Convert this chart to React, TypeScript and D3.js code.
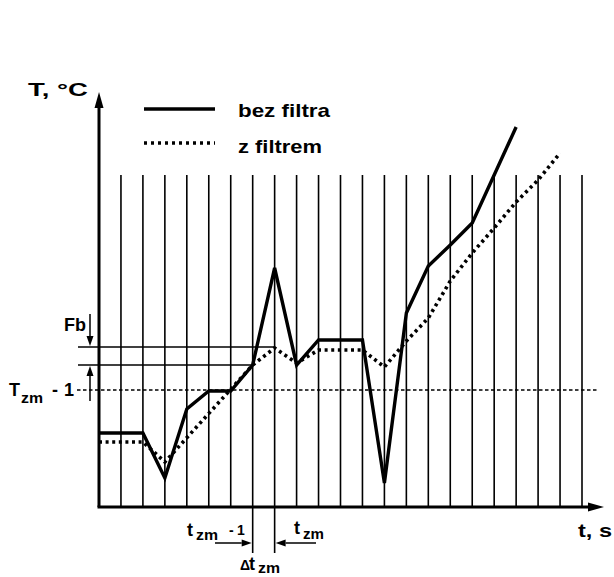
import React from "react";
import * as d3 from "d3";

// ---- data (time in sampling steps, temperature in arbitrary units) ----
const gridTimes = [1, 2, 3, 4, 5, 6, 7, 8, 9, 10, 11, 12, 13, 14, 15, 16, 17, 18, 19, 20, 21, 22];
const solidTimes = [0, 2, 3, 4, 5, 6, 7, 8, 9, 10, 12, 13, 14, 15, 16, 17, 19];
const solidValues = [18.5, 18.5, 7.25, 24.5, 29, 29, 35.5, 59.75, 35.5, 41.75, 41.75, 6, 48.5, 60.25, 65.5, 71, 95];
const dottedTimes = [0, 2, 3, 7, 8, 9, 10, 12, 13, 14, 15, 16, 17, 18, 19, 20, 21];
const dottedValues = [16.25, 16.25, 11.25, 35.5, 39.75, 36, 39.25, 39.25, 35, 41.5, 47.25, 56.5, 63.5, 69.75, 76.25, 81.75, 88.5];
const fbUpper = 40;
const fbLower = 35.5;
const tzmLevel = 29.25;
const gridTop = 83;
const markTimes = [7, 8]; // t_zm-1 and t_zm
const legendLabels = ["bez filtra", "z filtrem"];

const W = 614;
const H = 577;
const FONT = "'Liberation Sans', Arial, Helvetica, sans-serif";

const x = d3.scaleLinear().domain([0, 22]).range([99, 582]);
const y = d3.scaleLinear().domain([0, 100]).range([507, 107]);

function Arrow({ x1, y1, x2, y2, head = 10, half = 3.5, width = 1.5 }: any) {
  const ang = Math.atan2(y2 - y1, x2 - x1);
  const bx = x2 - head * Math.cos(ang);
  const by = y2 - head * Math.sin(ang);
  const px = -Math.sin(ang) * half;
  const py = Math.cos(ang) * half;
  return (
    <g>
      <line x1={x1} y1={y1} x2={bx} y2={by} stroke="#000" strokeWidth={width} />
      <polygon points={`${x2},${y2} ${bx + px},${by + py} ${bx - px},${by - py}`} fill="#000" />
    </g>
  );
}

export default function App() {
  const line = d3
    .line<number>()
    .x((_, i) => x(solidTimes[i]))
    .y((d) => y(d));
  const dline = d3
    .line<number>()
    .x((_, i) => x(dottedTimes[i]))
    .y((d) => y(d));

  const x0 = x(0);
  const y0 = y(0);
  const txt: any = { fontFamily: FONT, fontWeight: "bold", fill: "#000" };

  return (
    <svg
      width={W}
      height={H}
      viewBox={`0 0 ${W} ${H}`}
      style={{ position: "absolute", left: 0, top: 0, background: "#fff" }}
    >
      <rect x={0} y={0} width={W} height={H} fill="#fff" />

      {/* vertical grid lines */}
      {gridTimes.map((t) => (
        <line key={t} x1={x(t)} x2={x(t)} y1={y(gridTop)} y2={y0} stroke="#000" strokeWidth={1.6} />
      ))}

      {/* extended marks below axis */}
      {markTimes.map((t) => (
        <line key={"m" + t} x1={x(t)} x2={x(t)} y1={y0} y2={553} stroke="#000" strokeWidth={1.6} />
      ))}

      {/* Fb lines */}
      <line x1={78} x2={x(8)} y1={y(fbUpper)} y2={y(fbUpper)} stroke="#000" strokeWidth={1.6} />
      <line x1={78} x2={x(7)} y1={y(fbLower)} y2={y(fbLower)} stroke="#000" strokeWidth={1.6} />

      {/* T_zm-1 dashed line */}
      <line
        x1={77}
        x2={597}
        y1={y(tzmLevel)}
        y2={y(tzmLevel)}
        stroke="#000"
        strokeWidth={1.5}
        strokeDasharray="3.5 2.5"
      />

      {/* series */}
      <path d={dline(dottedValues) || ""} fill="none" stroke="#000" strokeWidth={3.6} strokeDasharray="3 3.6" />
      <path d={line(solidValues) || ""} fill="none" stroke="#000" strokeWidth={3.4} strokeLinejoin="miter" />

      {/* axes */}
      <line x1={x0} y1={y0} x2={x0} y2={104} stroke="#000" strokeWidth={3} />
      <polygon points={`${x0},92 ${x0 - 4.5},108 ${x0 + 4.5},108`} fill="#000" />
      <line x1={x0 - 1.5} y1={y0} x2={590} y2={y0} stroke="#000" strokeWidth={3} />
      <polygon points={`604,${y0} 588,${y0 - 4.5} 588,${y0 + 4.5}`} fill="#000" />

      {/* Fb arrows */}
      <Arrow x1={90} y1={314} x2={90} y2={y(fbUpper) - 1} />
      <Arrow x1={90} y1={401} x2={90} y2={y(fbLower) + 1} />

      {/* bottom arrows */}
      <Arrow x1={215} y1={543} x2={x(7) - 1} y2={543} />
      <Arrow x1={316} y1={543} x2={x(8) + 1} y2={543} />

      {/* legend */}
      <line x1={144} x2={215} y1={109} y2={109} stroke="#000" strokeWidth={3.4} />
      <line x1={144} x2={215} y1={143} y2={143} stroke="#000" strokeWidth={3.6} strokeDasharray="3 4" />
      <text x={238} y={117} fontSize={19} textLength={92} lengthAdjust="spacingAndGlyphs" style={txt}>
        {legendLabels[0]}
      </text>
      <text x={238} y={153} fontSize={19} textLength={84} lengthAdjust="spacingAndGlyphs" style={txt}>
        {legendLabels[1]}
      </text>

      {/* axis titles */}
      <text x={28} y={96} fontSize={18} textLength={60} lengthAdjust="spacingAndGlyphs" style={txt}>
        T, °C
      </text>
      <text x={578} y={537} fontSize={19} textLength={34} lengthAdjust="spacingAndGlyphs" style={txt}>
        t, s
      </text>

      {/* Fb label */}
      <text x={64} y={331} fontSize={18} textLength={22} lengthAdjust="spacingAndGlyphs" style={txt}>
        Fb
      </text>

      {/* T_zm - 1 label */}
      <text x={9} y={396} fontSize={18} style={txt}>T</text>
      <text x={21} y={403} fontSize={14} textLength={22} lengthAdjust="spacingAndGlyphs" style={txt}>zm</text>
      <text x={52} y={396} fontSize={18} style={txt}>-</text>
      <text x={64} y={396} fontSize={18} style={txt}>1</text>

      {/* t_zm -1 label */}
      <text x={187} y={536} fontSize={18} style={txt}>t</text>
      <text x={196} y={540} fontSize={14} textLength={22} lengthAdjust="spacingAndGlyphs" style={txt}>zm</text>
      <text x={229} y={535} fontSize={14} style={txt}>-</text>
      <text x={237} y={535} fontSize={14} style={txt}>1</text>

      {/* t_zm label */}
      <text x={294} y={534} fontSize={18} style={txt}>t</text>
      <text x={303} y={539} fontSize={14} textLength={21} lengthAdjust="spacingAndGlyphs" style={txt}>zm</text>

      {/* delta t_zm label */}
      <text x={240} y={570} fontSize={14} style={txt}>Δ</text>
      <text x={249} y={570} fontSize={18} style={txt}>t</text>
      <text x={258} y={573} fontSize={14} textLength={22} lengthAdjust="spacingAndGlyphs" style={txt}>zm</text>
    </svg>
  );
}
